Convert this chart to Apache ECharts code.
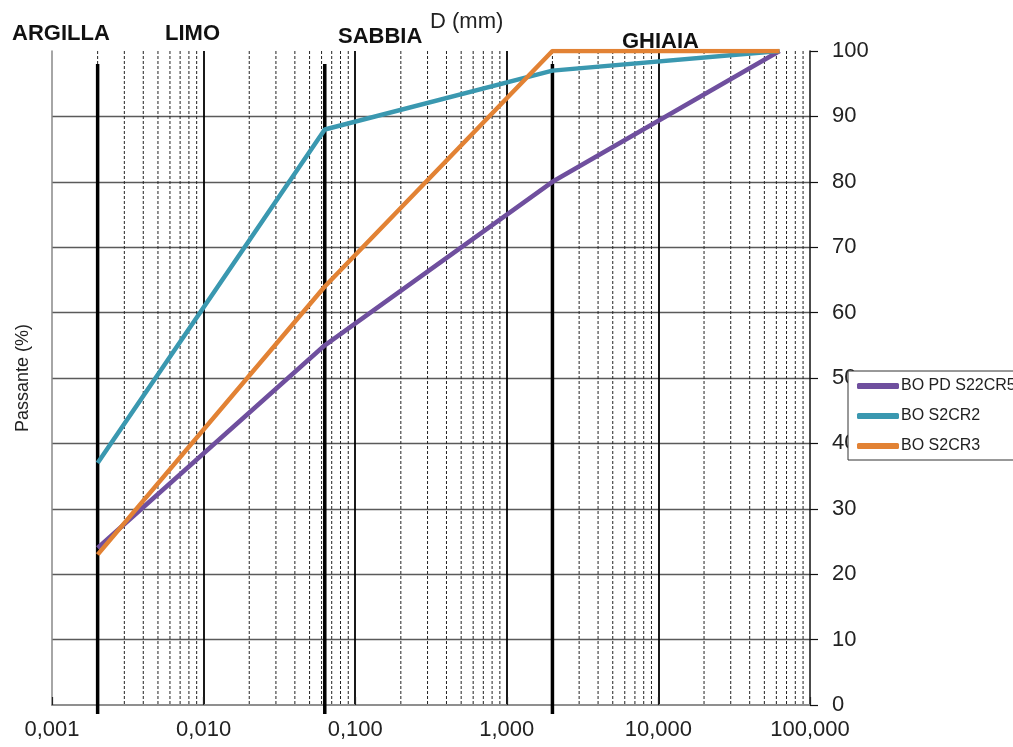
<!DOCTYPE html>
<html>
<head>
<meta charset="utf-8">
<script src="https://cdn.jsdelivr.net/npm/echarts@6/dist/echarts.min.js"></script>
<style>
  html, body { margin: 0; padding: 0; background: #ffffff; }
  #chart { width: 1013px; height: 747px; }
</style>
</head>
<body>
<div id="chart"></div>
<script>
// Grain-size distribution curves (sieve diameter in mm, percent passing)
const diameters = [0.002, 0.063, 2, 63];
const seriesNames = ['BO PD S22CR5', 'BO S2CR2', 'BO S2CR3'];
const passS22CR5 = [24, 55, 80, 100];
const passS2CR2 = [37, 88, 97, 100];
const passS2CR3 = [23, 64, 100, 100];
const seriesColors = ['#6f4f9e', '#3a98b0', '#e28234'];

// Soil class boundaries (clay / silt / sand / gravel) in mm
const classLimits = [0.002, 0.063, 2];
const classLabels = ['ARGILLA', 'LIMO', 'SABBIA', 'GHIAIA'];
const axisTitleX = 'D (mm)';
const axisTitleY = 'Passante (%)';

// Decade range of the log axis
const xMin = 0.001;
const xMax = 100;

// Intermediate log-cycle lines: 2..9 times each decade
const minorGrid = [];
for (let d = xMin; d < xMax * 0.999; d *= 10) {
  for (let k = 2; k <= 9; k++) minorGrid.push(+(k * d).toPrecision(3));
}

const fontMain = '"Liberation Sans", Arial, sans-serif';

const chart = echarts.init(document.getElementById('chart'), null, { renderer: 'canvas' });

const lineSeries = [passS22CR5, passS2CR2, passS2CR3].map((vals, i) => ({
  name: seriesNames[i],
  type: 'line',
  xAxisIndex: 0,
  yAxisIndex: 0,
  data: diameters.map((d, j) => [d, vals[j]]),
  symbol: 'none',
  color: seriesColors[i],
  lineStyle: { width: 4.5, color: seriesColors[i] },
  z: 10 + i
}));

const option = {
  backgroundColor: '#ffffff',
  animation: false,
  textStyle: { fontFamily: fontMain },
  grid: { left: 52, right: 203, top: 51, bottom: 42 },
  legend: {
    data: seriesNames,
    orient: 'vertical',
    left: 848,
    top: 371,
    icon: 'roundRect',
    itemWidth: 42,
    itemHeight: 6,
    itemGap: 10,
    padding: [5, 20, 4, 9],
    backgroundColor: '#ffffff',
    borderColor: '#333333',
    borderWidth: 1,
    borderRadius: 0,
    z: 20,
    textStyle: { fontSize: 16, color: '#222222', lineHeight: 20, fontFamily: fontMain, padding: [0, 0, 0, -3] }
  },
  xAxis: [
    {
      type: 'log',
      logBase: 10,
      min: xMin,
      max: xMax,
      position: 'bottom',
      axisLine: { show: true, lineStyle: { color: '#888888', width: 1.5 } },
      axisTick: { show: false },
      minorTick: { show: false },
      splitLine: { show: true, showMinLine: false, showMaxLine: false, lineStyle: { color: '#000000', width: 1.8 } },
      axisLabel: {
        fontSize: 22,
        color: '#222222',
        margin: 14,
        fontFamily: fontMain,
        formatter: v => Number(v).toFixed(3).replace('.', ',')
      }
    },
    {
      type: 'log',
      logBase: 10,
      min: xMin,
      max: xMax,
      position: 'top',
      axisLine: { show: true, lineStyle: { color: '#888888', width: 1.5 } },
      axisTick: { show: true, inside: false, length: 8, lineStyle: { color: '#222222', width: 1.2 } },
      axisLabel: { show: false },
      splitLine: { show: false }
    }
  ],
  yAxis: [
    {
      type: 'value',
      min: 0,
      max: 100,
      interval: 10,
      position: 'right',
      axisLine: { show: true, lineStyle: { color: '#111111', width: 1.5 } },
      axisTick: { show: true, inside: false, length: 8, lineStyle: { color: '#111111', width: 1.2 } },
      splitLine: { show: true, showMinLine: false, showMaxLine: false, lineStyle: { color: '#5a5a5a', width: 1.3 } },
      axisLabel: { fontSize: 22, color: '#222222', margin: 22, fontFamily: fontMain }
    },
    {
      type: 'value',
      min: 0,
      max: 100,
      interval: 10,
      position: 'left',
      name: axisTitleY,
      nameLocation: 'middle',
      nameRotate: 90,
      nameGap: 20,
      nameTextStyle: { fontSize: 18, color: '#222222', fontFamily: fontMain },
      axisLine: { show: true, lineStyle: { color: '#888888', width: 1.5 } },
      axisTick: { show: false },
      axisLabel: { show: false },
      splitLine: { show: false }
    }
  ],
  graphic: [
    { type: 'text', left: 12, top: 23, style: { text: classLabels[0], font: 'bold 22px ' + fontMain, fill: '#111111' } },
    { type: 'text', left: 165, top: 23, style: { text: classLabels[1], font: 'bold 22px ' + fontMain, fill: '#111111' } },
    { type: 'text', left: 338, top: 26, style: { text: classLabels[2], font: 'bold 22px ' + fontMain, fill: '#111111' } },
    { type: 'text', left: 430, top: 11, style: { text: axisTitleX, font: '22px ' + fontMain, fill: '#222222' } },
    { type: 'text', left: 622, top: 31, style: { text: classLabels[3], font: 'bold 22px ' + fontMain, fill: '#111111' } }
  ],
  series: [
    {
      // dashed intermediate log-cycle lines
      type: 'custom',
      xAxisIndex: 0,
      yAxisIndex: 0,
      silent: true,
      z: 1,
      data: minorGrid.map(v => [v, 0]),
      encode: { x: 0, y: 1 },
      renderItem: (params, api) => {
        const x = api.value(0);
        const top = api.coord([x, 100]);
        const bottom = api.coord([x, 0]);
        return {
          type: 'line',
          shape: { x1: top[0], y1: top[1], x2: bottom[0], y2: bottom[1] },
          style: { stroke: '#222222', lineWidth: 1, lineDash: [3, 2] }
        };
      }
    },
    {
      // heavy boundaries between soil classes
      type: 'custom',
      xAxisIndex: 0,
      yAxisIndex: 0,
      silent: true,
      z: 5,
      clip: false,
      data: classLimits.map(v => [v, 0]),
      encode: { x: 0, y: 1 },
      renderItem: (params, api) => {
        const x = api.value(0);
        const top = api.coord([x, 98]);
        const bottom = api.coord([x, 0]);
        return {
          type: 'line',
          shape: { x1: top[0], y1: top[1], x2: bottom[0], y2: bottom[1] + 9 },
          style: { stroke: '#000000', lineWidth: 3.5 }
        };
      }
    }
  ].concat(lineSeries)
};

chart.setOption(option);
</script>
</body>
</html>
